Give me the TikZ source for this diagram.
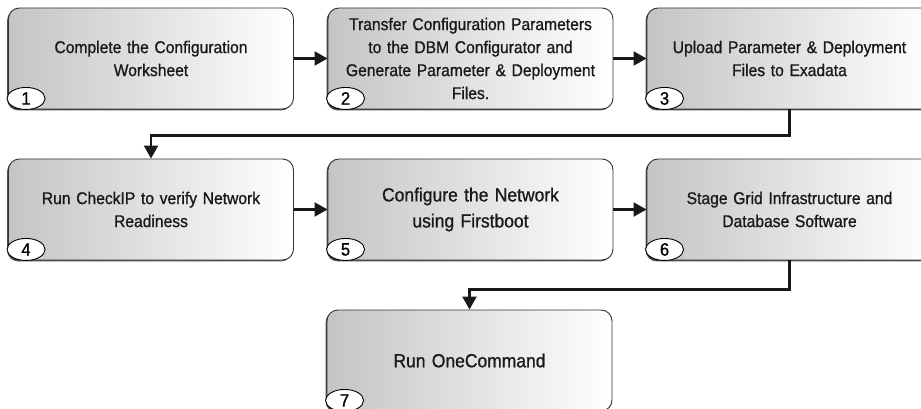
\documentclass[tikz,border=0pt]{standalone}
\usepackage{fontspec}
\setmainfont{Liberation Sans}[FakeBold=0.9, FakeStretch=0.92]
\usetikzlibrary{shapes.geometric, arrows.meta, shadows}

\tikzset{
  stepbox/.style = {draw = black!80, line width = 0.9pt, rounded corners = 11pt,
    minimum width = 285pt, minimum height = 101pt, text width = 276pt, align = center,
    left color = black!23, right color = white, text = black!90,
    font = \fontsize{17}{23}\selectfont,
    general shadow = {shadow xshift = -1.4pt, shadow yshift = -1.4pt, fill = black!70}},
  bigtext/.style = {font = \fontsize{19}{26}\selectfont},
  numtag/.style = {ellipse, draw = black, line width = 0.9pt, fill = white,
    minimum width = 38pt, minimum height = 22pt, inner sep = 0pt,
    font = \fontsize{18}{18}\selectfont},
  flow/.style = {draw = black!90, line width = 2.2pt, -{Triangle[length = 13pt, width = 14pt]}}
}

\begin{document}
\begin{tikzpicture}[x = 1pt, y = -1pt]
      \clip (0,0) rectangle (921,409);

      \node[stepbox] (b1) at (151,58.5) {Complete the Configuration\\Worksheet};
      \node[stepbox] (b2) at (470.5,58.5) {Transfer Configuration Parameters\\to the DBM Configurator and\\Generate Parameter \& Deployment\\Files.};
      \node[stepbox] (b3) at (789.5,58.5) {Upload Parameter \& Deployment\\Files to Exadata};

      \node[stepbox] (b4) at (151,209.5) {Run CheckIP to verify Network\\Readiness};
      \node[stepbox, bigtext] (b5) at (470.5,209.5) {Configure the Network\\using Firstboot};
      \node[stepbox] (b6) at (789.5,209.5) {Stage Grid Infrastructure and\\Database Software};

      \node[stepbox, bigtext] (b7) at (469.5,360.5) {Run OneCommand};

      \foreach \i in {1,...,7} {
        \node[numtag] (n\i) at ([xshift = 18pt, yshift = 11pt]b\i.south west) {\i};
      }

      \draw[flow] (b1) -- (b2);
      \draw[flow] (b2) -- (b3);
      \draw[flow] (b3.south) -- ++(0,26) -| (b4.north);
      \draw[flow] (b4) -- (b5);
      \draw[flow] (b5) -- (b6);
      \draw[flow] (b6.south) -- ++(0,29) -| (b7.north);
    \end{tikzpicture}
\end{document}
